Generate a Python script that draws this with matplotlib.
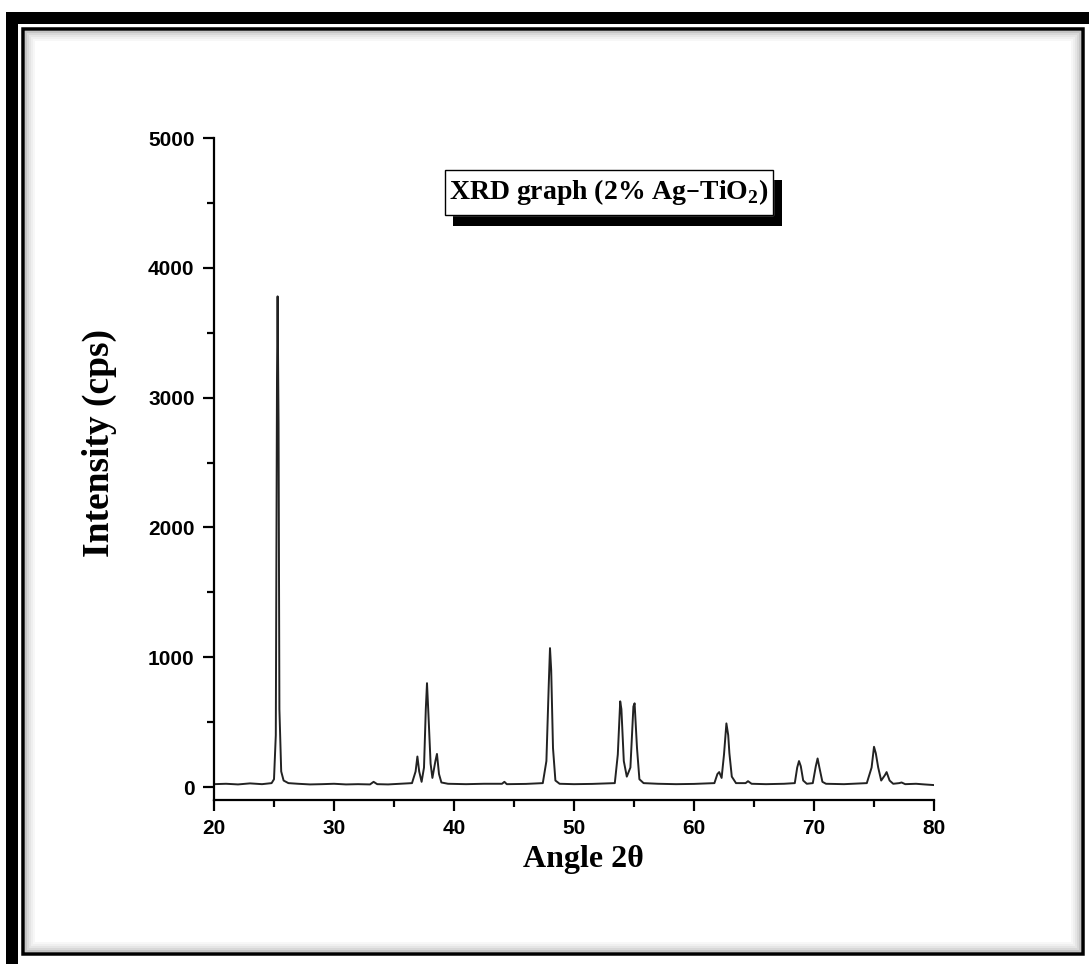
import matplotlib.pyplot as plt
from matplotlib.patches import Rectangle

# XRD trace of 2% Ag-TiO2
twotheta = [20.0, 21.0, 22.0, 23.0, 24.0, 24.8, 25.0, 25.15, 25.25, 25.3, 25.38, 25.45,
            25.6, 25.8, 26.2, 27.0, 28.0, 29.0, 30.0, 31.0, 32.0, 33.0, 33.3, 33.6,
            34.5, 35.5, 36.5, 36.8, 36.95, 37.1, 37.3, 37.5, 37.65, 37.75, 37.85, 38.05,
            38.2, 38.45, 38.58, 38.75, 38.95, 39.5, 41.0, 42.5, 44.0, 44.2, 44.4, 46.0,
            47.4, 47.7, 47.9, 48.0, 48.1, 48.25, 48.45, 48.8, 50.0, 51.5, 53.4, 53.65,
            53.85, 53.95, 54.15, 54.4, 54.7, 54.95, 55.05, 55.25, 55.45, 55.8, 57.0, 58.5,
            60.0, 61.7, 61.95, 62.1, 62.3, 62.5, 62.7, 62.85, 62.95, 63.15, 63.5, 64.3,
            64.5, 64.8, 66.0, 67.5, 68.4, 68.6, 68.75, 68.9, 69.1, 69.4, 69.9, 70.15,
            70.3, 70.45, 70.7, 71.0, 72.5, 74.4, 74.8, 75.0, 75.15, 75.35, 75.6, 75.9,
            76.05, 76.3, 76.6, 77.1, 77.3, 77.6, 78.5, 79.2, 80.0]
intensity = [22, 25, 20, 28, 22, 30, 60, 400, 3150, 3780, 2800, 600,
             120, 50, 30, 25, 20, 22, 25, 20, 22, 20, 40, 22,
             20, 25, 30, 120, 235, 120, 40, 150, 600, 800, 600, 180,
             70, 200, 255, 100, 35, 25, 22, 25, 25, 40, 22, 24,
             30, 200, 800, 1070, 900, 300, 50, 25, 22, 24, 30, 250,
             660, 600, 200, 80, 150, 620, 645, 300, 60, 30, 25, 22,
             24, 30, 100, 115, 70, 250, 490, 400, 260, 80, 30, 30,
             45, 25, 22, 25, 30, 150, 200, 160, 50, 25, 30, 160,
             220, 150, 40, 25, 22, 30, 150, 310, 260, 150, 50, 90,
             115, 50, 25, 30, 35, 22, 25, 20, 15]

W, H = 1089, 964
fig = plt.figure(figsize=(W / 100, H / 100), dpi=100)

def px(x, y):
    return x / W, 1 - y / H

def frame(x0, y0, x1, y1, lw, color='black', alpha=1.0, fill=False, z=0):
    fx0, fy1 = px(x0, y0)
    fx1, fy0 = px(x1, y1)
    r = Rectangle((fx0, fy0), fx1 - fx0, fy1 - fy0, transform=fig.transFigure,
                  fill=fill, facecolor=color, edgecolor=color, lw=lw, alpha=alpha,
                  zorder=z)
    fig.add_artist(r)

# outer thick border and inner thin border with soft inner shadow
frame(12.5, 18, 1094, 966, 12 * 0.72)
frame(23, 28.5, 1082.5, 953.5, 3.5 * 0.72)
for i, a in enumerate([0.45, 0.3, 0.2, 0.12, 0.06]):
    d = 3 + 2 * i
    frame(23 + d, 28.5 + d, 1082.5 - d, 953.5 - d, 2 * 0.72, color='gray', alpha=a)

ax = fig.add_axes([214 / W, 1 - 800 / H, 720 / W, 662 / H])
ax.plot(twotheta, intensity, color='#222222', lw=1.4)
ax.set_xlim(20, 80)
ax.set_ylim(-100, 5000)
for s in ['top', 'right']:
    ax.spines[s].set_visible(False)
for s in ['left', 'bottom']:
    ax.spines[s].set_linewidth(1.6)
ax.set_xticks([20, 30, 40, 50, 60, 70, 80])
ax.set_xticks([25, 35, 45, 55, 65, 75], minor=True)
ax.set_yticks([0, 1000, 2000, 3000, 4000, 5000])
ax.set_yticks([500, 1500, 2500, 3500, 4500], minor=True)
ax.tick_params(which='major', direction='out', length=8, width=1.6, pad=6)
ax.tick_params(which='minor', direction='out', length=5, width=1.6)
for lab in ax.get_xticklabels() + ax.get_yticklabels():
    lab.set_family('Liberation Sans')
    lab.set_fontweight('bold')
    lab.set_fontsize(15)

ax.set_ylabel('Intensity (cps)', family='Liberation Serif', fontweight='bold',
              fontsize=27)
ax.yaxis.set_label_coords(-0.135, 0.54)
ax.set_xlabel('Angle 2θ', family='Liberation Serif', fontweight='bold',
              fontsize=23, va='center')
ax.xaxis.set_label_coords(0.5125, -0.09)

# title box with drop shadow
frame(453, 180, 782, 226, 0, fill=True, z=5)
frame(445, 170, 773, 215, 1.0, fill=True, color='white', z=6)
frame(445, 170, 773, 215, 1.0, z=7)
tx, ty = px(609, 192)
fig.text(tx, ty, r'XRD graph (2% Ag–TiO$_\mathregular{2}$)', family='Liberation Serif',
         fontweight='bold', fontsize=20, ha='center', va='center', zorder=8)

fig.savefig('out.png', dpi=100)
